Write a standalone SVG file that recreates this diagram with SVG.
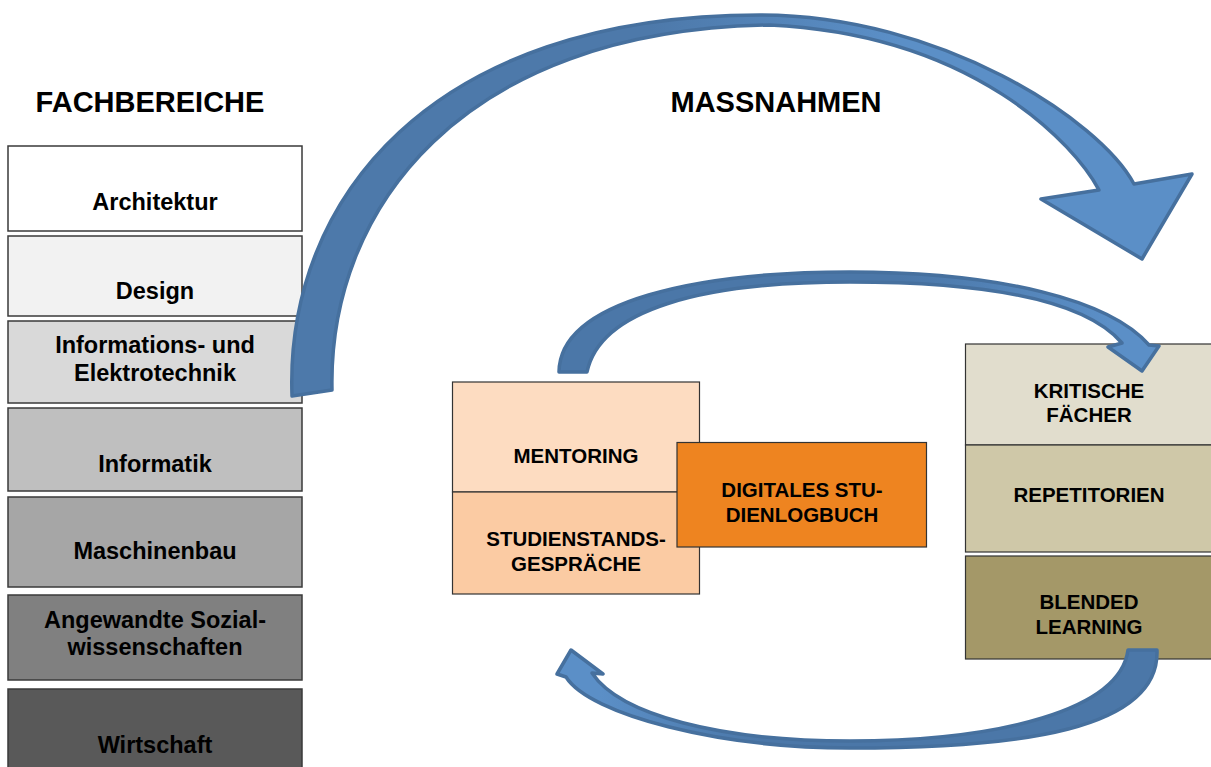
<svg xmlns="http://www.w3.org/2000/svg" width="1211" height="767" viewBox="0 0 1211 767">
  <style>
    text { font-family: "Liberation Sans", Arial, sans-serif; font-weight: bold; fill: #000; text-anchor: middle; }
    .head { font-size: 29px; }
    .fb { font-size: 23.5px; }
    .mn { font-size: 20.5px; }
    .box { stroke: #3a3a3a; stroke-width: 1.5; }
    .mbox { stroke: #333; stroke-width: 1.2; }
    .arrow { stroke: #46709e; stroke-width: 3.5; stroke-linejoin: round; }
  </style>
  <defs>
    <linearGradient id="gBig" gradientUnits="userSpaceOnUse" x1="650" y1="0" x2="900" y2="0">
      <stop offset="0" stop-color="#4d79aa"/>
      <stop offset="1" stop-color="#5b8fc7"/>
    </linearGradient>
    <linearGradient id="gMid" gradientUnits="userSpaceOnUse" x1="900" y1="0" x2="1110" y2="0">
      <stop offset="0" stop-color="#4b77a8"/>
      <stop offset="1" stop-color="#5b8fc7"/>
    </linearGradient>
    <linearGradient id="gLow" gradientUnits="userSpaceOnUse" x1="600" y1="0" x2="760" y2="0">
      <stop offset="0" stop-color="#5b8fc7"/>
      <stop offset="1" stop-color="#4b77a8"/>
    </linearGradient>
  </defs>

  <rect width="1211" height="767" fill="#ffffff"/>

  <!-- column headings -->
  <text class="head" x="150" y="112">FACHBEREICHE</text>
  <text class="head" x="776" y="112">MASSNAHMEN</text>

  <!-- departments -->
  <g id="architektur">
    <rect class="box" x="8" y="146" width="294" height="85" fill="#ffffff"/>
    <text class="fb" x="155" y="210">Architektur</text>
  </g>
  <g id="design">
    <rect class="box" x="8" y="236" width="294" height="80" fill="#f2f2f2"/>
    <text class="fb" x="155" y="299">Design</text>
  </g>
  <g id="informations-elektrotechnik">
    <rect class="box" x="8" y="321" width="294" height="82" fill="#d9d9d9"/>
    <text class="fb" x="155" y="353">Informations- und</text>
    <text class="fb" x="155" y="380.5">Elektrotechnik</text>
  </g>
  <g id="informatik">
    <rect class="box" x="8" y="408" width="294" height="83" fill="#bfbfbf"/>
    <text class="fb" x="155" y="472">Informatik</text>
  </g>
  <g id="maschinenbau">
    <rect class="box" x="8" y="497" width="294" height="90" fill="#a6a6a6"/>
    <text class="fb" x="155" y="559">Maschinenbau</text>
  </g>
  <g id="sozialwissenschaften">
    <rect class="box" x="8" y="595" width="294" height="85" fill="#808080"/>
    <text class="fb" x="155" y="628">Angewandte Sozial-</text>
    <text class="fb" x="155" y="655">wissenschaften</text>
  </g>
  <g id="wirtschaft">
    <rect class="box" x="8" y="689" width="294" height="85" fill="#595959"/>
    <text class="fb" x="155" y="753">Wirtschaft</text>
  </g>

  <!-- measures: counselling -->
  <g id="mentoring">
    <rect class="mbox" x="452.5" y="382" width="247" height="110" fill="#fddcc1"/>
    <text class="mn" x="576" y="463">MENTORING</text>
  </g>
  <g id="studienstandsgespraeche">
    <rect class="mbox" x="452.5" y="492" width="247" height="102" fill="#fbcba3"/>
    <text class="mn" x="576" y="546">STUDIENSTANDS-</text>
    <text class="mn" x="576" y="571">GESPRÄCHE</text>
  </g>
  <g id="studienlogbuch">
    <rect class="mbox" x="677" y="442.5" width="249.5" height="104.5" fill="#ee8420"/>
    <text class="mn" x="802" y="497">DIGITALES STU-</text>
    <text class="mn" x="802" y="522">DIENLOGBUCH</text>
  </g>

  <!-- measures: critical subjects -->
  <g id="kritische-faecher">
    <rect class="mbox" x="965.5" y="344" width="248" height="101" fill="#e1ddcd"/>
    <text class="mn" x="1089" y="398">KRITISCHE</text>
    <text class="mn" x="1089" y="422">FÄCHER</text>
  </g>
  <g id="repetitorien">
    <rect class="mbox" x="965.5" y="445" width="248" height="107" fill="#cfc8a8"/>
    <text class="mn" x="1089" y="502">REPETITORIEN</text>
  </g>
  <g id="blended-learning">
    <rect class="mbox" x="965.5" y="556" width="248" height="103" fill="#a49868"/>
    <text class="mn" x="1089" y="609">BLENDED</text>
    <text class="mn" x="1089" y="634">LEARNING</text>
  </g>

  <!-- curved block arrows -->
  <g id="connectors">
    <path class="arrow" fill="url(#gBig)"
      d="M 292 396 C 285 200 430 15 760 15 C 940 15 1100 120 1134 184
         L 1192 174 L 1142 259 L 1041 199 L 1099 190
         C 1075 145 975 35 770 25 C 460 30 328 210 332 390 Z"/>
    <path class="arrow" fill="url(#gMid)"
      d="M 559 372 C 560 300 700 272 850 272 C 1000 272 1110 300 1149 345
         L 1159 346 L 1142 371 L 1108 347 L 1122 343
         C 1085 300 990 282 850 282 C 700 282 600 310 587 372 Z"/>
    <path class="arrow" fill="url(#gLow)"
      d="M 1157 650 C 1160 730 1020 748 850 748 C 720 748 590 715 566 677
         L 557 674 L 571 650 L 603 674 L 592 673
         C 620 715 720 741 850 741 C 1000 741 1120 710 1128 650 Z"/>
  </g>
</svg>
